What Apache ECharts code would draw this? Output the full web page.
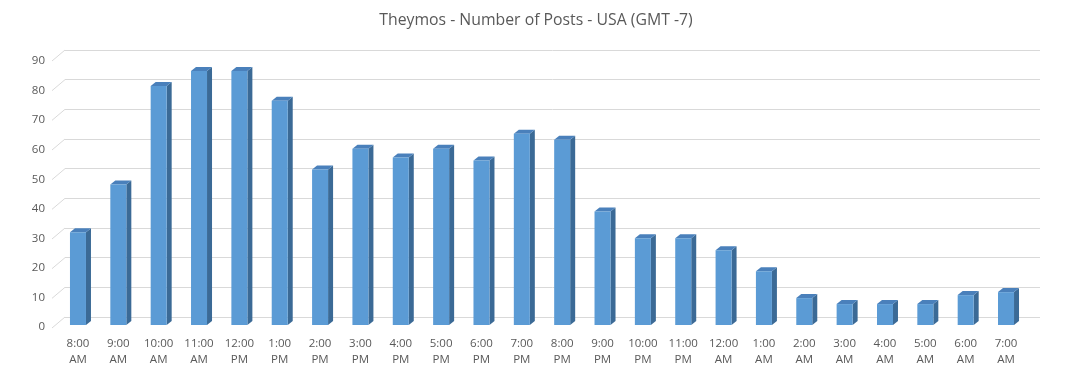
<!DOCTYPE html>
<html><head><meta charset="utf-8">
<script src="https://cdn.jsdelivr.net/npm/echarts@6/dist/echarts.min.js"></script>
<style>html,body{margin:0;padding:0;background:#fff}#c{width:1072px;height:374px}</style>
</head><body><div id="c"></div>
<script>
const categories = ["8:00\nAM","9:00\nAM","10:00\nAM","11:00\nAM","12:00\nPM","1:00\nPM","2:00\nPM","3:00\nPM","4:00\nPM","5:00\nPM","6:00\nPM","7:00\nPM","8:00\nPM","9:00\nPM","10:00\nPM","11:00\nPM","12:00\nAM","1:00\nAM","2:00\nAM","3:00\nAM","4:00\nAM","5:00\nAM","6:00\nAM","7:00\nAM"];
const posts = [31,47,80,85,85,75,52,59,56,59,55,64,62,38,29,29,25,18,9,7,7,7,10,11];
const yTicks = [0,10,20,30,40,50,60,70,80,90];

const FONT = "Open Sans";
const chart = echarts.init(document.getElementById('c'), null, {renderer:'canvas'});

const FRONT = '#5b9bd5', SIDE = '#3b6a96', TOP = '#4a80bb';

chart.setOption({
  animation:false,
  title:{text:'Theymos - Number of Posts - USA (GMT -7)', left:'center', top:7,
    textStyle:{fontFamily:FONT, fontSize:15.8, fontWeight:'normal', color:'#595959'}},
  grid:[
    {left:57.8, right:45.8, top:56, bottom:49},   // bars
    {left:65, right:32, top:50, bottom:57},        // back wall gridlines
    {left:52, right:32, top:61, bottom:47}         // value labels
  ],
  xAxis:[
    {type:'category', gridIndex:0, data:categories, axisLine:{show:false}, axisTick:{show:false},
     axisLabel:{interval:0, margin:11, lineHeight:16, fontFamily:FONT, fontSize:11.5, color:'#595959'}},
    {type:'value', gridIndex:1, min:0, max:1, show:false},
    {type:'value', gridIndex:2, min:0, max:1, show:false}
  ],
  yAxis:[
    {type:'value', gridIndex:0, min:0, max:90, interval:10, show:false},
    {type:'value', gridIndex:1, min:0, max:90, interval:10, axisLabel:{show:false}, axisLine:{show:false}, axisTick:{show:false},
     splitLine:{lineStyle:{color:'#d9d9d9', width:1}}},
    {type:'value', gridIndex:2, min:0, max:90, interval:10, axisLine:{show:false}, axisTick:{show:false}, splitLine:{show:false},
     axisLabel:{margin:7, fontFamily:FONT, fontSize:11.5, color:'#595959'}}
  ],
  series:[
    {type:'custom', xAxisIndex:1, yAxisIndex:1, data:yTicks.map(t=>[0,t]), silent:true, z:1,
     renderItem(params, api){
       const p = api.coord([0, api.value(1)]);
       return {type:'line', shape:{x1:p[0]-13, y1:p[1]+11, x2:p[0], y2:p[1]},
         style:{stroke:'#d9d9d9', lineWidth:1}};
     }},
    {type:'custom', xAxisIndex:0, yAxisIndex:0, data:posts.map((v,i)=>[i,v]), z:5,
     renderItem(params, api){
       const t = api.coord([api.value(0), api.value(1)]);
       const b = api.coord([api.value(0), 0]);
       const w = 16, d = 5, h = 4;
       const x0 = t[0]-w/2, x1 = t[0]+w/2, yt = t[1], yb = b[1];
       return {type:'group', children:[
         {type:'polygon', shape:{points:[[x1,yt],[x1+d,yt-h],[x1+d,yb-h],[x1,yb]]}, style:{fill:SIDE}},
         {type:'polygon', shape:{points:[[x0,yt],[x0+d,yt-h],[x1+d,yt-h],[x1,yt]]}, style:{fill:TOP}},
         {type:'rect', shape:{x:x0, y:yt, width:w, height:yb-yt}, style:{fill:FRONT}}
       ]};
     }}
  ]
});
</script></body></html>
